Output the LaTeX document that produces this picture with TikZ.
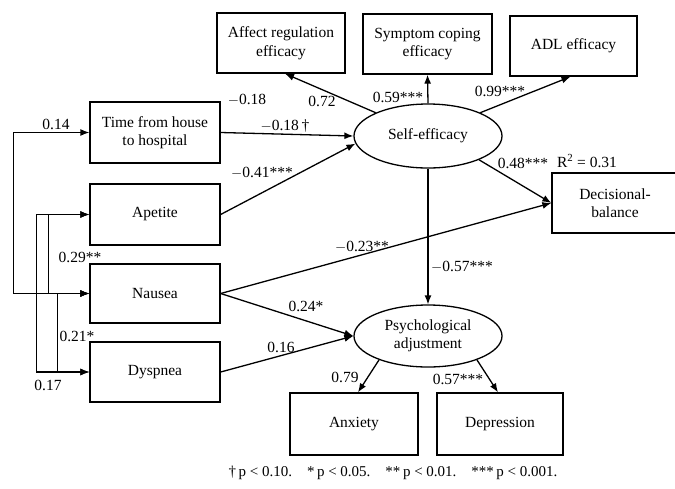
\documentclass[tikz,border=0pt]{standalone}
\usepackage{fontspec}
\setmainfont{Liberation Serif}
\usetikzlibrary{shapes.geometric,arrows.meta,calc}
\begin{document}
\begin{tikzpicture}[x=1pt,y=-1pt,
  font=\fontsize{15.5}{18.5}\selectfont,
  bx/.style={draw,line width=1.3pt,inner sep=0pt,align=center,minimum height=60pt},
  ell/.style={draw,ellipse,line width=1.3pt,inner sep=0pt,align=center},
  arr/.style={line width=1.3pt,-{Latex[length=9pt,width=7pt]}},
  biarr/.style={line width=1.3pt,{Latex[length=9pt,width=7pt]}-{Latex[length=9pt,width=7pt]}},
  lab/.style={inner sep=0pt}]
\useasboundingbox (0,0) rectangle (675,488);
\fill[white] (0,0) rectangle (675,488);
% boxes
\node[bx,minimum width=128pt] (aff) at (281,43) {Affect regulation\\efficacy};
\node[bx,minimum width=129pt] (sym) at (427.5,44) {Symptom coping\\efficacy};
\node[bx,minimum width=127pt] (adl) at (573.5,46) {ADL efficacy};
\node[bx,minimum width=130pt,minimum height=61pt] (time) at (155,132.5) {Time from house\\to hospital};
\node[bx,minimum width=130pt,minimum height=61pt] (ape) at (155,214.5) {Apetite};
\node[bx,minimum width=130pt,minimum height=59pt] (nau) at (155,293.5) {Nausea};
\node[bx,minimum width=130pt] (dys) at (155,372) {Dyspnea};
\node[bx,minimum width=126pt] (dec) at (615,203) {Decisional-\\balance};
\node[bx,minimum width=128pt,minimum height=62pt] (anx) at (354,424) {Anxiety};
\node[bx,minimum width=126pt,minimum height=62pt] (dep) at (500,424) {Depression};
\node[ell,minimum width=148pt,minimum height=64pt] (se) at (428,136) {Self-efficacy};
\node[ell,minimum width=148pt,minimum height=62pt] (pa) at (428,336) {Psychological\\adjustment};
% correlations on the left
\draw[biarr] (time.west) -- ++(-76,0) |- (nau.west);
\draw[biarr] (ape.west) -- ++(-53,0) |- (dys.west);
\draw[biarr] (ape.west) -- ++(-41,0) |- (nau.west);
\draw[biarr] (nau.west) -- ++(-32,0) |- (dys.west);
% paths
\draw[arr] (time.east) -- (se.west);
\draw[arr] (ape.east) -- (se.186);
\draw[arr] (se.156) -- ($(aff.south)+(4,0)$);
\draw[arr] (se.north) -- (sym.south);
\draw[arr] (se.24) -- ($(adl.south)+(-3,0)$);
\draw[arr] (se.-25) -- (dec.west);
\draw[arr] (nau.east) -- (dec.west);
\draw[arr] (nau.east) -- (pa.west);
\draw[arr] (dys.east) -- (pa.west);
\draw[arr] (se.south) -- (pa.north);
\draw[arr] (pa.-154) -- ($(anx.north)+(4,0)$);
\draw[arr] (pa.-26) -- ($(dep.north)+(-2,0)$);
% labels
\node[lab] (l1) at (56,124) {0.14};
\node[lab] (l2) at (80,257) {0.29**};
\node[lab] (l3) at (77,336) {0.21*};
\node[lab] (l4) at (48,385) {0.17};
\node[lab] (l5) at (247,100) {$-$0.18};
\node[lab] (l6) at (322,101) {0.72};
\node[lab] (l7) at (398,97) {0.59***};
\node[lab] (l8) at (500,91) {0.99***};
\node[lab] (l9) at (285,126) {$-$0.18\,\dag};
\node[lab] (l10) at (262,173) {$-$0.41***};
\node[lab] (l11) at (523,163) {0.48***};
\node[lab] (l12) at (587,161) {R\textsuperscript{2} = 0.31};
\node[lab] (l13) at (362,247) {$-$0.23**};
\node[lab] (l14) at (462,267) {$-$0.57***};
\node[lab] (l15) at (306,306) {0.24*};
\node[lab] (l16) at (281,347) {0.16};
\node[lab] (l17) at (345,377) {0.79};
\node[lab] (l18) at (458,379) {0.57***};
\node[lab,font=\fontsize{15}{17}\selectfont] (fn) at (393,473) {\dag\,p < 0.10.\quad *\,p < 0.05.\quad **\,p < 0.01.\quad ***\,p < 0.001.};
\end{tikzpicture}
\end{document}
